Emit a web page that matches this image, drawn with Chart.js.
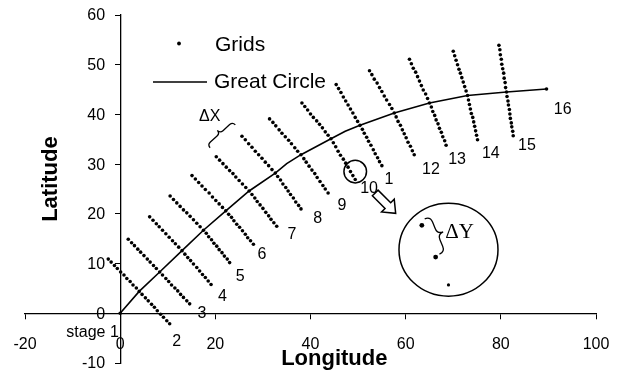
<!DOCTYPE html>
<html>
<head>
<meta charset="utf-8">
<script src="https://cdn.jsdelivr.net/npm/chart.js@4"></script>
<style>
  html, body { margin: 0; padding: 0; background: #fff; }
</style>
</head>
<body>
<canvas id="chart" width="630" height="376"></canvas>
<script>
// axis ticks
const xTicks = [-20, 0, 20, 40, 60, 80, 100];
const yTicks = [-10, 0, 10, 20, 30, 40, 50, 60];

// great circle route, stage 1 (origin) to stage 16
const greatCircle = [
  [0, 0], [4.0, 4.4], [8.3, 8.3], [13.0, 12.6], [17.5, 16.7], [22.2, 20.6], [27.1, 24.6],
  [32.6, 28.2], [35.0, 30.1], [38.0, 31.9], [44.3, 35.1], [47.3, 36.6], [50.4, 37.8],
  [57.6, 40.3], [65.0, 42.3], [73.0, 43.8], [81.2, 44.5], [89.6, 45.1]
];

// grid points of each stage (21 per stage)
const stageEnds = [[0, 0], [89.6, 45.1]];
const grid2 = [[-2.5,10.9],[-1.9,10.3],[-1.2,9.6],[-0.6,9.0],[0.1,8.3],[0.8,7.7],[1.4,7.0],[2.1,6.4],[2.7,5.7],[3.4,5.1],[4.0,4.4],[4.6,3.8],[5.3,3.1],[5.9,2.5],[6.6,1.8],[7.2,1.2],[7.8,0.5],[8.5,-0.2],[9.1,-0.8],[9.8,-1.5],[10.4,-2.1]];
const grid3 = [[1.7,14.9],[2.4,14.2],[3.0,13.6],[3.7,12.9],[4.3,12.3],[5.0,11.6],[5.7,10.9],[6.3,10.3],[7.0,9.6],[7.6,9.0],[8.3,8.3],[8.9,7.7],[9.6,7.0],[10.2,6.4],[10.8,5.7],[11.5,5.1],[12.1,4.5],[12.7,3.8],[13.3,3.2],[14.0,2.5],[14.6,1.9]];
const grid4 = [[6.2,19.4],[6.9,18.7],[7.6,18.0],[8.2,17.4],[8.9,16.7],[9.6,16.0],[10.3,15.3],[11.0,14.6],[11.6,14.0],[12.3,13.3],[13.0,12.6],[13.6,11.9],[14.2,11.2],[14.8,10.6],[15.4,9.9],[16.1,9.2],[16.7,8.5],[17.3,7.8],[17.9,7.2],[18.5,6.5],[19.1,5.8]];
const grid5 = [[10.5,23.6],[11.2,22.9],[11.9,22.2],[12.6,21.5],[13.3,20.8],[14.0,20.2],[14.7,19.5],[15.4,18.8],[16.1,18.1],[16.8,17.4],[17.5,16.7],[18.1,16.1],[18.6,15.4],[19.2,14.8],[19.7,14.1],[20.3,13.5],[20.8,12.8],[21.4,12.2],[21.9,11.5],[22.5,10.9],[23.0,10.2]];
const grid6 = [[15.1,27.7],[15.8,27.0],[16.5,26.3],[17.2,25.6],[17.9,24.9],[18.7,24.2],[19.4,23.4],[20.1,22.7],[20.8,22.0],[21.5,21.3],[22.2,20.6],[22.8,19.9],[23.4,19.3],[23.9,18.6],[24.5,17.9],[25.1,17.3],[25.7,16.6],[26.3,15.9],[26.8,15.2],[27.4,14.6],[28.0,13.9]];
const grid7 = [[20.2,31.5],[20.9,30.8],[21.6,30.1],[22.3,29.4],[23.0,28.7],[23.7,28.1],[24.3,27.4],[25.0,26.7],[25.7,26.0],[26.4,25.3],[27.1,24.6],[27.7,23.9],[28.3,23.2],[28.8,22.5],[29.4,21.8],[30.0,21.1],[30.6,20.3],[31.2,19.6],[31.7,18.9],[32.3,18.2],[32.9,17.5]];
const grid8 = [[25.6,35.6],[26.3,34.9],[27.0,34.1],[27.7,33.4],[28.4,32.6],[29.1,31.9],[29.8,31.2],[30.5,30.4],[31.2,29.7],[31.9,28.9],[32.6,28.2],[33.1,27.5],[33.7,26.8],[34.2,26.0],[34.8,25.3],[35.3,24.6],[35.8,23.9],[36.4,23.2],[36.9,22.4],[37.5,21.7],[38.0,21.0]];
const grid9 = [[31.4,39.1],[32.1,38.4],[32.7,37.7],[33.4,36.9],[34.0,36.2],[34.7,35.5],[35.4,34.8],[36.0,34.1],[36.7,33.3],[37.3,32.6],[38.0,31.9],[38.6,31.1],[39.1,30.4],[39.7,29.6],[40.3,28.8],[40.9,28.1],[41.4,27.3],[42.0,26.5],[42.6,25.7],[43.1,25.0],[43.7,24.2]];
const grid10 = [[38.2,42.3],[38.8,41.6],[39.4,40.9],[40.0,40.1],[40.6,39.4],[41.3,38.7],[41.9,38.0],[42.5,37.3],[43.1,36.5],[43.7,35.8],[44.3,35.1],[44.8,34.3],[45.3,33.5],[45.8,32.6],[46.3,31.8],[46.9,31.0],[47.4,30.2],[47.9,29.4],[48.4,28.5],[48.9,27.7],[49.4,26.9]];
const grid11 = [[45.4,46.0],[45.9,45.2],[46.4,44.4],[46.9,43.5],[47.4,42.7],[47.9,41.9],[48.4,41.1],[48.9,40.3],[49.4,39.4],[49.9,38.6],[50.4,37.8],[50.9,37.0],[51.3,36.2],[51.8,35.4],[52.2,34.6],[52.7,33.8],[53.2,32.9],[53.6,32.1],[54.1,31.3],[54.5,30.5],[55.0,29.7]];
const grid12 = [[52.4,48.8],[52.9,48.0],[53.4,47.1],[54.0,46.3],[54.5,45.4],[55.0,44.6],[55.5,43.7],[56.0,42.9],[56.6,42.0],[57.1,41.2],[57.6,40.3],[58.0,39.5],[58.4,38.6],[58.9,37.8],[59.3,36.9],[59.7,36.1],[60.1,35.3],[60.5,34.4],[61.0,33.6],[61.4,32.7],[61.8,31.9]];
const grid13 = [[60.8,51.1],[61.2,50.2],[61.6,49.3],[62.1,48.5],[62.5,47.6],[62.9,46.7],[63.3,45.8],[63.7,44.9],[64.2,44.1],[64.6,43.2],[65.0,42.3],[65.4,41.5],[65.7,40.6],[66.1,39.8],[66.4,38.9],[66.8,38.1],[67.1,37.2],[67.5,36.4],[67.8,35.5],[68.2,34.7],[68.5,33.8]];
const grid14 = [[70.0,52.7],[70.3,51.8],[70.6,50.9],[70.9,50.0],[71.2,49.1],[71.5,48.3],[71.8,47.4],[72.1,46.5],[72.4,45.6],[72.7,44.7],[73.0,43.8],[73.2,42.9],[73.4,42.0],[73.6,41.1],[73.8,40.2],[74.1,39.4],[74.3,38.5],[74.5,37.6],[74.7,36.7],[74.9,35.8],[75.1,34.9]];
const grid15 = [[79.6,53.9],[79.8,53.0],[79.9,52.0],[80.1,51.1],[80.2,50.1],[80.4,49.2],[80.6,48.3],[80.7,47.3],[80.9,46.4],[81.0,45.4],[81.2,44.5],[81.3,43.6],[81.5,42.7],[81.6,41.9],[81.8,41.0],[81.9,40.1],[82.0,39.2],[82.2,38.3],[82.3,37.5],[82.5,36.6],[82.6,35.7]];

// magnified points shown in the inset circle
const insetDots = [[63.4, 17.7], [66.3, 11.3], [69.0, 5.7]];

// stage numbers written beside the grids
const stageLabels = ['stage 1', '2', '3', '4', '5', '6', '7', '8', '9', '10', '1', '12', '13', '14', '15', '16'];

const FONT = '"Liberation Sans", Arial, sans-serif';

const toXY = arr => arr.map(([x, y]) => ({ x, y }));
const allGrids = [stageEnds, grid2, grid3, grid4, grid5, grid6, grid7, grid8, grid9, grid10,
  grid11, grid12, grid13, grid14, grid15].flat();

// where each stage label sits (data coords)
const stageLabelAt = [[-5.8, -3.7], [11.9, -5.5], [17.2, 0.1], [21.5, 3.5], [25.2, 7.5], [29.8, 12.1],
  [36.1, 16.1], [41.5, 19.3], [46.6, 21.8], [52.3, 25.3], [56.5, 27.0], [65.3, 29.2],
  [70.8, 31.1], [77.9, 32.4], [85.5, 34.0], [93.0, 41.2]];

function drawBrace(ctx, x1, y1, x2, y2, w) {
  const len = Math.hypot(x2 - x1, y2 - y1);
  const h = len / 2;
  ctx.save();
  ctx.translate(x1, y1);
  ctx.rotate(Math.atan2(y2 - y1, x2 - x1));
  ctx.beginPath();
  ctx.moveTo(0, 0);
  ctx.quadraticCurveTo(0, -w / 2, w / 2, -w / 2);
  ctx.lineTo(h - w / 2, -w / 2);
  ctx.quadraticCurveTo(h, -w / 2, h, -w);
  ctx.quadraticCurveTo(h, -w / 2, h + w / 2, -w / 2);
  ctx.lineTo(len - w / 2, -w / 2);
  ctx.quadraticCurveTo(len, -w / 2, len, 0);
  ctx.stroke();
  ctx.restore();
}

function drawBlockArrow(ctx, x1, y1, x2, y2) {
  const len = Math.hypot(x2 - x1, y2 - y1);
  const head = 11, sw = 4, hw = 9;
  ctx.save();
  ctx.translate(x1, y1);
  ctx.rotate(Math.atan2(y2 - y1, x2 - x1));
  ctx.beginPath();
  ctx.moveTo(0, -sw);
  ctx.lineTo(len - head, -sw);
  ctx.lineTo(len - head, -hw);
  ctx.lineTo(len, 0);
  ctx.lineTo(len - head, hw);
  ctx.lineTo(len - head, sw);
  ctx.lineTo(0, sw);
  ctx.closePath();
  ctx.fillStyle = '#fff';
  ctx.fill();
  ctx.stroke();
  ctx.restore();
}

const annotations = {
  id: 'annotations',
  afterDatasetsDraw(chart) {
    const { ctx, chartArea: area, scales: { x, y } } = chart;
    const px = v => x.getPixelForValue(v);
    const py = v => y.getPixelForValue(v);
    ctx.save();
    ctx.fillStyle = '#000';
    ctx.strokeStyle = '#000';
    ctx.lineWidth = 1.5;

    // y tick labels sit left of the crossing axis
    ctx.font = '16px ' + FONT;
    ctx.textAlign = 'right';
    ctx.textBaseline = 'middle';
    y.ticks.forEach(t => ctx.fillText(String(t.value), px(0) - 15, py(t.value) + 1));

    // stage numbers
    ctx.textAlign = 'center';
    stageLabels.forEach((t, i) => {
      const [lx, ly] = stageLabelAt[i];
      ctx.fillText(t, px(lx), py(ly) + 1);
    });

    // axis titles
    ctx.font = 'bold 22px ' + FONT;
    ctx.fillText('Longitude', px(45), py(-10) - 4);
    ctx.save();
    ctx.translate(area.left + 26, py(27));
    ctx.rotate(-Math.PI / 2);
    ctx.fillText('Latitude', 0, 0);
    ctx.restore();

    // legend
    ctx.font = '21px ' + FONT;
    ctx.textAlign = 'left';
    ctx.beginPath();
    ctx.arc(area.left + 154, area.top + 28.5, 1.9, 0, Math.PI * 2);
    ctx.fill();
    ctx.fillText('Grids', area.left + 190, area.top + 30);
    ctx.beginPath();
    ctx.moveTo(area.left + 128, area.top + 67);
    ctx.lineTo(area.left + 182, area.top + 67);
    ctx.stroke();
    ctx.fillText('Great Circle', area.left + 189, area.top + 67);

    // delta X brace and label
    ctx.lineWidth = 1.3;
    drawBrace(ctx, px(18.9), py(33.3), px(24.2), py(37.9), 8);
    ctx.font = '16px ' + FONT;
    ctx.textAlign = 'center';
    ctx.fillText('\u0394X', px(18.8), py(39.5));

    // small circle, arrow, inset
    ctx.lineWidth = 1.5;
    ctx.beginPath();
    ctx.arc(px(49.4), py(28.5), 11.3, 0, Math.PI * 2);
    ctx.stroke();
    drawBlockArrow(ctx, px(53.6), py(24.2), px(57.9), py(20.1));
    ctx.beginPath();
    ctx.ellipse(px(69.0), py(12.8), 49.5, 46.5, 0, 0, Math.PI * 2);
    ctx.stroke();
    ctx.lineWidth = 1.3;
    drawBrace(ctx, px(64.0), py(19.0), px(67.1), py(11.9), 12);
    ctx.font = '21px "Liberation Serif", "Times New Roman", serif';
    ctx.textAlign = 'left';
    ctx.fillText('\u0394Y', px(68.3), py(16.2));
    ctx.restore();
  }
};

// crossing axes: they take no room in the layout
const noRoom = s => {
  if (s.isHorizontal()) s.height = 0; else s.width = 0;
  s.paddingLeft = 0;
  s.paddingRight = 0;
  s.paddingTop = 0;
  s.paddingBottom = 0;
};

new Chart(document.getElementById('chart'), {
  type: 'scatter',
  data: {
    datasets: [
      {
        label: 'Grids',
        data: toXY(allGrids),
        pointRadius: 1.8,
        pointBorderWidth: 0,
        pointBackgroundColor: '#000',
        showLine: false,
      },
      {
        label: 'Great Circle',
        data: toXY(greatCircle),
        showLine: true,
        borderColor: '#000',
        borderWidth: 1.6,
        pointRadius: 0,
        tension: 0,
      },
      {
        label: 'Inset',
        data: toXY(insetDots),
        pointRadius: [2.4, 2.4, 1.6],
        pointBorderWidth: 0,
        pointBackgroundColor: '#000',
        showLine: false,
      },
    ],
  },
  options: {
    responsive: false,
    animation: false,
    layout: { padding: { left: 25, right: 34, top: 15, bottom: 13 } },
    plugins: {
      legend: { display: false },
      tooltip: { enabled: false },
    },
    scales: {
      x: {
        type: 'linear',
        min: -20,
        max: 100,
        position: { y: 0 },
        afterFit: noRoom,
        afterBuildTicks: s => { s.ticks = xTicks.map(v => ({ value: v })); },
        ticks: { color: '#000', font: { family: FONT, size: 16 }, padding: 17, maxRotation: 0 },
        grid: { drawOnChartArea: false, tickLength: 5, tickColor: '#000' },
        border: { color: '#000', width: 1.3 },
      },
      y: {
        type: 'linear',
        min: -10,
        max: 60,
        position: { x: 0 },
        afterFit: noRoom,
        afterBuildTicks: s => { s.ticks = yTicks.map(v => ({ value: v })); },
        ticks: { display: false },
        grid: { drawOnChartArea: false, tickLength: 5, tickColor: '#000' },
        border: { color: '#000', width: 1.3 },
      },
    },
  },
  plugins: [annotations],
});
</script>
</body>
</html>
